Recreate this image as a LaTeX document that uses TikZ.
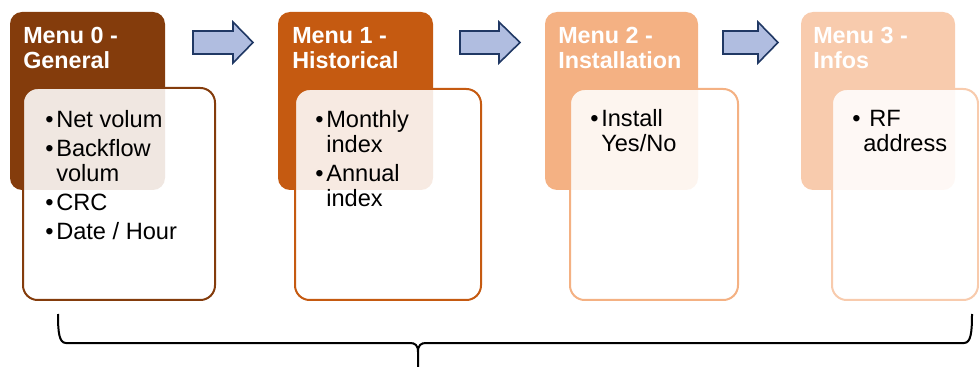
\documentclass[tikz,border=0pt]{standalone}
\usepackage{fontspec}
\setmainfont{Liberation Sans}
\usetikzlibrary{positioning}

\definecolor{menuA}{HTML}{843C0C}
\definecolor{menuB}{HTML}{C55A11}
\definecolor{menuC}{HTML}{F4B183}
\definecolor{menuD}{HTML}{F8CBAD}
\definecolor{arrowfill}{HTML}{B0BDE0}
\definecolor{arrowline}{HTML}{203864}

\newcommand{\bul}{\makebox[8.25pt][l]{\textbullet}}

\begin{document}
\begin{tikzpicture}[x=0.75pt,y=0.75pt,yscale=-1,xscale=1,
  head/.style={rounded corners=9pt},
  body/.style={line width=1.5pt, rounded corners=11pt, fill=white, fill opacity=0.88},
  title/.style={anchor=base west, inner sep=0pt, text=white, font=\fontsize{17.5}{18.75}\selectfont\bfseries},
  items/.style={anchor=base west, inner sep=0pt, font=\fontsize{17.7}{18.75}\selectfont},
  blockarrow/.style={fill=arrowfill, draw=arrowline, line width=1.2pt, line join=miter}]
  \useasboundingbox (0,0) rectangle (979,367);
  \clip (0,0) rectangle (979,367);

  % menu heads
  \fill[head, menuA] (10,12) rectangle (165,190);
  \fill[head, menuB] (278,12) rectangle (433,190);
  \fill[head, menuC] (545,12) rectangle (698,190);
  \fill[head, menuD] (801,12) rectangle (955,190);

  \node[title] (menu0) at (23,43.5) {\begin{tabular}[t]{@{}l@{}}Menu 0 -\\General\end{tabular}};
  \node[title] (menu1) at (292,43.5) {\begin{tabular}[t]{@{}l@{}}Menu 1 -\\Historical\end{tabular}};
  \node[title] (menu2) at (558,43.5) {\begin{tabular}[t]{@{}l@{}}Menu 2 -\\Installation\end{tabular}};
  \node[title] (menu3) at (813,43.5) {\begin{tabular}[t]{@{}l@{}}Menu 3 -\\Infos\end{tabular}};

  % menu bodies
  \filldraw[body, draw=menuA] (23,88) rectangle (215,300);
  \filldraw[body, draw=menuB] (295,89) rectangle (481,300);
  \filldraw[body, draw=menuC] (570,89) rectangle (738,300);
  \filldraw[body, draw=menuD] (832,89) rectangle (978,300);

  \node[items] (list0) at (45,128) {\begin{tabular}[t]{@{}l@{}l@{}}\bul&Net volum\\[3pt]\bul&Backflow\\&volum\\[3pt]\bul&CRC\\[3pt]\bul&Date / Hour\end{tabular}};
  \node[items] (list1) at (315,128) {\begin{tabular}[t]{@{}l@{}l@{}}\bul&Monthly\\&index\\[3pt]\bul&Annual\\&index\end{tabular}};
  \node[items] (list2) at (590,127) {\begin{tabular}[t]{@{}l@{}l@{}}\bul&Install\\&Yes/No\end{tabular}};
  \node[items] (list3) at (852,127) {\begin{tabular}[t]{@{}l@{}l@{}}\bul&\hspace*{4.5pt}RF\\&address\end{tabular}};

  % arrows between menus
  \foreach \a/\b/\c in {193/233/253, 460/499/520, 723/758/778}
    \draw[blockarrow] (\a,31) -- (\b,31) -- (\b,22) -- (\c,42.5) -- (\b,63) -- (\b,54) -- (\a,54) -- cycle;

  % brace under the menus
  \draw[line width=1.5pt] (58,314) .. controls (58,332) and (59,343) .. (66,343) -- (410,343) .. controls (415,343) and (418,345) .. (418,352) -- (418,367)
    (418,352) .. controls (418,345) and (421,343) .. (426,343) -- (964,343) .. controls (971,343) and (972,332) .. (972,314);
\end{tikzpicture}
\end{document}
